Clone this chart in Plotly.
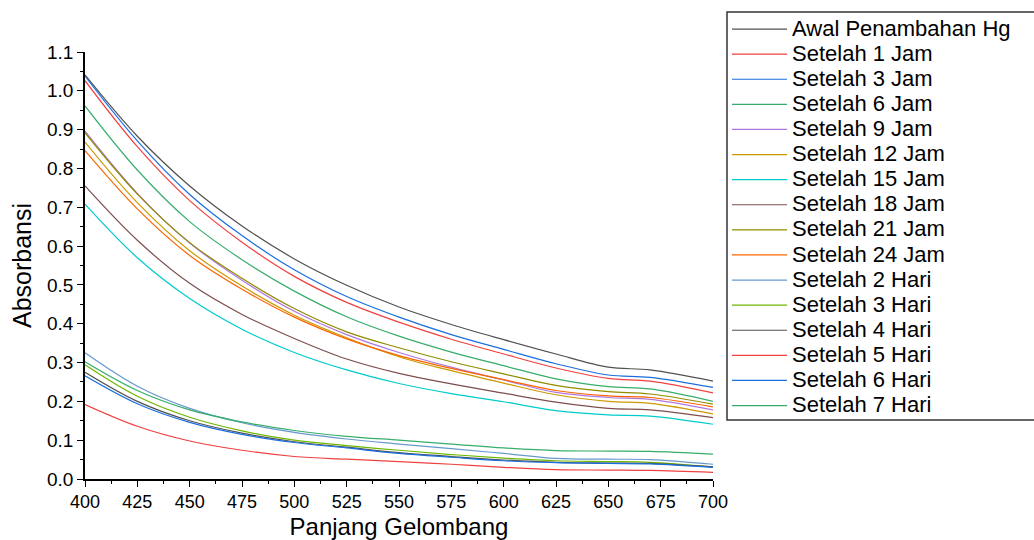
import plotly.graph_objects as go

wavelength = [400, 425, 450, 475, 500, 525, 550, 575, 600, 625, 650, 670, 700]

series_names = ["Awal Penambahan Hg", "Setelah 1 Jam", "Setelah 3 Jam", "Setelah 6 Jam",
                "Setelah 9 Jam", "Setelah 12 Jam", "Setelah 15 Jam", "Setelah 18 Jam",
                "Setelah 21 Jam", "Setelah 24 Jam", "Setelah 2 Hari", "Setelah 3 Hari",
                "Setelah 4 Hari", "Setelah 5 Hari", "Setelah 6 Hari", "Setelah 7 Hari"]

awal   = [1.041, 0.883, 0.755, 0.652, 0.567, 0.499, 0.443, 0.398, 0.359, 0.322, 0.288, 0.281, 0.252]
jam1   = [1.026, 0.856, 0.717, 0.610, 0.522, 0.455, 0.404, 0.360, 0.322, 0.286, 0.259, 0.252, 0.222]
jam3   = [1.038, 0.871, 0.733, 0.627, 0.539, 0.470, 0.417, 0.372, 0.334, 0.297, 0.268, 0.262, 0.236]
jam6   = [0.961, 0.796, 0.663, 0.565, 0.484, 0.418, 0.368, 0.327, 0.292, 0.258, 0.238, 0.232, 0.200]
jam9   = [0.896, 0.736, 0.608, 0.512, 0.432, 0.372, 0.326, 0.288, 0.255, 0.223, 0.210, 0.205, 0.178]
jam12  = [0.868, 0.712, 0.588, 0.497, 0.422, 0.364, 0.315, 0.279, 0.247, 0.217, 0.200, 0.195, 0.168]
jam15  = [0.708, 0.570, 0.465, 0.386, 0.326, 0.281, 0.246, 0.220, 0.199, 0.176, 0.165, 0.162, 0.141]
jam18  = [0.755, 0.615, 0.504, 0.424, 0.362, 0.309, 0.272, 0.245, 0.221, 0.198, 0.182, 0.178, 0.158]
jam21  = [0.892, 0.734, 0.609, 0.517, 0.439, 0.379, 0.338, 0.302, 0.271, 0.241, 0.225, 0.219, 0.193]
jam24  = [0.846, 0.696, 0.576, 0.489, 0.417, 0.361, 0.318, 0.285, 0.256, 0.228, 0.214, 0.210, 0.186]
hari2  = [0.325, 0.239, 0.182, 0.145, 0.120, 0.103, 0.090, 0.078, 0.066, 0.053, 0.051, 0.050, 0.038]
hari3  = [0.294, 0.213, 0.159, 0.124, 0.100, 0.086, 0.074, 0.063, 0.054, 0.047, 0.045, 0.043, 0.031]
hari4  = [0.275, 0.200, 0.150, 0.118, 0.096, 0.082, 0.068, 0.058, 0.049, 0.043, 0.041, 0.040, 0.031]
hari5  = [0.192, 0.136, 0.098, 0.074, 0.058, 0.051, 0.045, 0.038, 0.030, 0.024, 0.023, 0.022, 0.017]
hari6  = [0.266, 0.194, 0.146, 0.115, 0.094, 0.080, 0.066, 0.056, 0.047, 0.042, 0.040, 0.039, 0.030]
hari7  = [0.302, 0.228, 0.178, 0.147, 0.125, 0.110, 0.100, 0.090, 0.080, 0.073, 0.072, 0.071, 0.064]

series_values = [awal, jam1, jam3, jam6, jam9, jam12, jam15, jam18, jam21, jam24,
                 hari2, hari3, hari4, hari5, hari6, hari7]

colors = ["#515151", "#F14040", "#1A6FDF", "#37AD6B", "#B177DE", "#CC9900", "#00CBCC",
          "#7D4E4E", "#8E8E00", "#FB6501", "#6699CC", "#6FB802",
          "#515151", "#F14040", "#1A6FDF", "#37AD6B"]

x_ticks = [400, 425, 450, 475, 500, 525, 550, 575, 600, 625, 650, 675, 700]
y_ticks = [0.0, 0.1, 0.2, 0.3, 0.4, 0.5, 0.6, 0.7, 0.8, 0.9, 1.0, 1.1]

FONT = "Liberation Sans, Arial, sans-serif"
LEGEND_TEXT_PX = 22

fig = go.Figure()
for name, vals, col in zip(series_names, series_values, colors):
    fig.add_trace(go.Scatter(
        x=wavelength, y=vals, mode="lines",
        name=f'<span style="font-size:{LEGEND_TEXT_PX}px">{name}</span>',
        line=dict(color=col, width=1.2, shape="spline", smoothing=1.0)))

W, H = 1034, 540
L, R, T, B = 85, 321, 52, 61
pw = W - L - R
ph = H - T - B

fig.update_layout(
    width=W, height=H,
    margin=dict(l=L, r=R, t=T, b=B, autoexpand=False),
    paper_bgcolor="white", plot_bgcolor="white",
    font=dict(family=FONT, color="black"),
    showlegend=True,
    legend=dict(
        x=(727 - L) / pw, y=(H - B - 11.5) / ph, xanchor="left", yanchor="top",
        font=dict(family=FONT, size=17, color="black"),
        bgcolor="rgba(0,0,0,0)", borderwidth=0, itemwidth=55,
        tracegroupgap=0, maxheight=540,
    ),
    xaxis=dict(
        range=[400, 700], tickmode="array", tickvals=x_ticks,
        ticks="outside", ticklen=6, tickwidth=1.3, tickcolor="black",
        showline=True, linecolor="black", linewidth=1.5,
        showgrid=False, zeroline=False,
        tickfont=dict(family=FONT, size=18, color="black"),
        title=dict(text="Panjang Gelombang", font=dict(family=FONT, size=24, color="black"), standoff=8),
        minor=dict(dtick=12.5, ticks="outside", ticklen=3, tickwidth=1.2, tickcolor="black", showgrid=False),
    ),
    yaxis=dict(
        range=[0, 1.1], tickmode="array", tickvals=y_ticks,
        ticktext=[f"{v:.1f}" for v in y_ticks],
        ticks="outside", ticklen=6, tickwidth=1.3, tickcolor="black",
        showline=True, linecolor="black", linewidth=1.5,
        showgrid=False, zeroline=False,
        tickfont=dict(family=FONT, size=19, color="black"),
        title=dict(text="Absorbansi", font=dict(family=FONT, size=25, color="black"), standoff=8),
        minor=dict(dtick=0.05, ticks="outside", ticklen=3, tickwidth=1.2, tickcolor="black", showgrid=False),
    ),
    shapes=[dict(type="rect", xref="paper", yref="paper",
                 x0=(727 - L) / pw, x1=(1040 - L) / pw,
                 y0=(H - B - 420) / ph, y1=(H - B - 12) / ph,
                 line=dict(color="#333333", width=1.5), fillcolor="rgba(0,0,0,0)", layer="above")],
)

fig.write_html("out.html")
